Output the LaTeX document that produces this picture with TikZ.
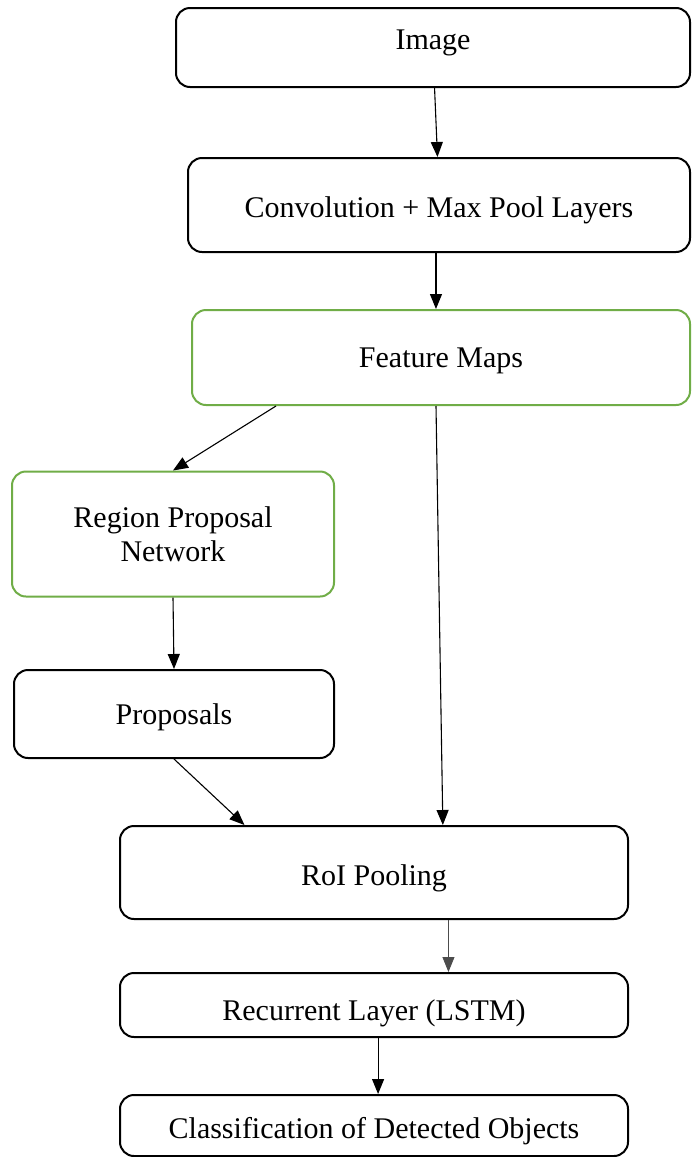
\documentclass[tikz,border=0pt]{standalone}
\usepackage{fontspec}
\setmainfont{Liberation Serif}
\usetikzlibrary{arrows.meta,calc}
\definecolor{boxgreen}{RGB}{112,173,71}
\tikzset{
  stage/.style={draw=black, line width=2pt, rounded corners=14pt, fill=white,
    inner sep=0pt, align=center, font=\fontsize{30}{34}\selectfont},
  greenstage/.style={stage, draw=boxgreen},
  tpos/.style={text height=#1, text depth=8pt},
  flow/.style={line width=1.1pt, -{Triangle[length=15pt,width=12pt]}}
}
\begin{document}
\begin{tikzpicture}[x=1pt,y=-1pt]
\useasboundingbox (0,0) rectangle (691,1157);

\node[stage, tpos=12pt, minimum width=514pt, minimum height=79pt] (img) at (433,47.5) {Image};
\node[stage, tpos=32pt, minimum width=502pt, minimum height=94pt] (conv) at (439,205) {Convolution + Max Pool Layers};
\node[greenstage, tpos=28pt, minimum width=498pt, minimum height=95pt] (feat) at (441,357.5) {Feature Maps};
\node[greenstage, minimum width=322pt, minimum height=125pt] (rpn) at (173,534) {Region Proposal\\Network};
\node[stage, tpos=28pt, minimum width=320pt, minimum height=88pt] (prop) at (174,714) {Proposals};
\node[stage, tpos=34pt, minimum width=508pt, minimum height=93pt] (roi) at (374,872.5) {RoI Pooling};
\node[stage, tpos=38pt, minimum width=508pt, minimum height=64pt] (rec) at (374,1005) {Recurrent Layer (LSTM)};
\node[stage, tpos=34pt, minimum width=508pt, minimum height=61pt] (cls) at (374,1125.5) {Classification of Detected Objects};

\draw[flow] ($(img.south west)!0.503!(img.south east)$) -- ($(conv.north west)!0.497!(conv.north east)$);
\draw[flow] ($(conv.south west)!0.494!(conv.south east)$) coordinate (cs) -- (cs |- feat.north);
\draw[flow] ($(feat.south west)!0.17!(feat.south east)$) -- (rpn.north);
\draw[flow] ($(feat.south west)!0.49!(feat.south east)$) -- ($(roi.north west)!0.635!(roi.north east)$);
\draw[flow] (rpn.south) -- (prop.north);
\draw[flow] (prop.south) -- ($(roi.north west)!0.246!(roi.north east)$);
\draw[flow, line width=0.8pt, draw=black!70] ($(roi.south west)!0.646!(roi.south east)$) coordinate (rs) -- (rs |- rec.north);
\draw[flow] ($(rec.south west)!0.508!(rec.south east)$) coordinate (ls) -- (ls |- cls.north);
\end{tikzpicture}
\end{document}
